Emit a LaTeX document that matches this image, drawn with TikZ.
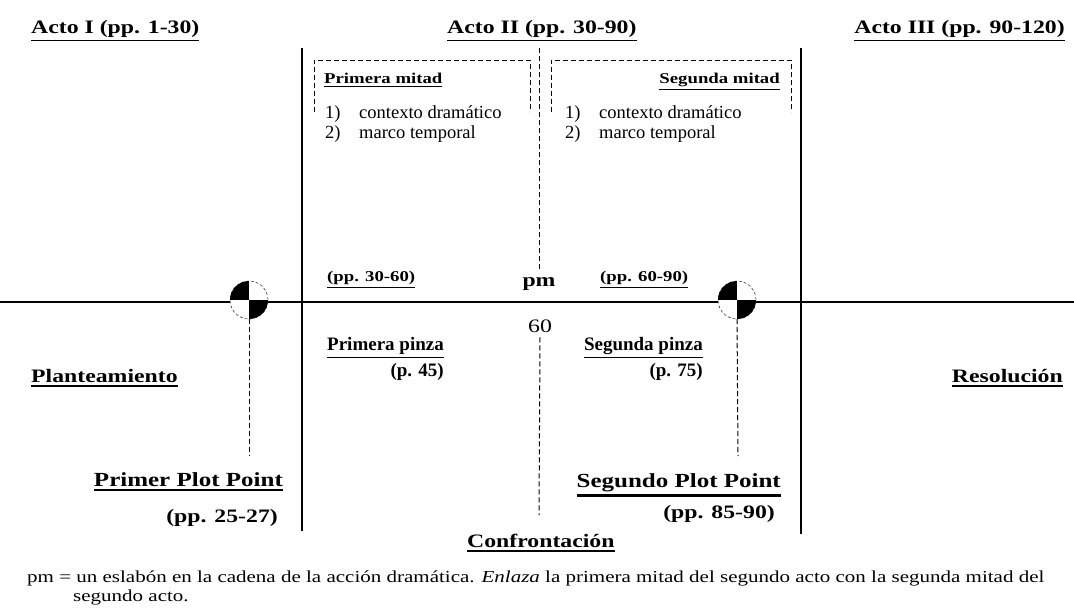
\documentclass[tikz,border=0pt]{standalone}
\usepackage{fontspec}
\setmainfont{Liberation Serif}
\newfontfamily\widefont{Liberation Serif}[FakeStretch=1.25]
\usetikzlibrary{positioning}

% underlined label: text, then a rule below it
\newcommand\ulin[2][1.6pt]{\vtop{\hbox{#2}\kern2.5pt\hrule height #1}}

\begin{document}
\begin{tikzpicture}[x=1pt,y=-1pt,
  acto/.style={font=\widefont\bfseries\fontsize{19}{22}\selectfont,inner sep=0pt},
  giro/.style={font=\widefont\bfseries\fontsize{20}{23}\selectfont,inner sep=0pt},
  mitad/.style={font=\widefont\bfseries\fontsize{15}{18}\selectfont,inner sep=0pt},
  rango/.style={font=\widefont\bfseries\fontsize{15}{18}\selectfont,inner sep=0pt},
  lista/.style={font=\fontsize{18.5}{20}\selectfont,inner sep=0pt,anchor=base west},
  pinza/.style={font=\bfseries\fontsize{19}{22}\selectfont,inner sep=0pt,anchor=base east},
  nota/.style={font=\widefont\fontsize{16.8}{20}\selectfont,inner sep=0pt,anchor=base west},
  marca/.style={circle,draw,thin,densely dashed,fill=white,minimum size=38pt,inner sep=0pt},
  linea/.style={line width=1.2pt},
  rayas/.style={line width=1pt,dash pattern=on 5pt off 3pt}]

\useasboundingbox (0,0) rectangle (1074,614);

% acts
\node[acto,anchor=base west] (a1) at (31,33) {\ulin{Acto I (pp. 1-30)}};
\node[acto,anchor=base west] (a2) at (447,33) {\ulin{Acto II (pp. 30-90)}};
\node[acto,anchor=base east] (a3) at (1065,33) {\ulin{Acto III (pp. 90-120)}};

% frame lines
\coordinate (h0) at (0,302);
\coordinate (h1) at (1074,302);
\coordinate (v1a) at (302,48);
\coordinate (v1b) at (302,531);
\coordinate (v2a) at (801,48);
\coordinate (v2b) at (801,534);
\coordinate (mid) at (539,48);
\coordinate (midb) at (539,515);
\draw[linea] (h0) -- (h1);
\draw[linea] (v1a) -- (v1b);
\draw[linea] (v2a) -- (v2b);

% halves of act II
\draw[rayas] (314,112) -- (314,60) -- (530,60) -- (530,112);
\draw[rayas] (551,112) -- (551,60) -- (791,60) -- (791,112);
\node[mitad,anchor=base west] (m1) at (324,83) {\ulin[1.3pt]{Primera mitad}};
\node[mitad,anchor=base east] (m2) at (780,83) {\ulin[1.3pt]{Segunda mitad}};
\node[lista] (i1) at (325,118) {\makebox[34pt][l]{1)}contexto dramático};
\node[lista] (i2) at (325,138) {\makebox[34pt][l]{2)}marco temporal};
\node[lista] (j1) at (565,118) {\makebox[34pt][l]{1)}contexto dramático};
\node[lista] (j2) at (565,138) {\makebox[34pt][l]{2)}marco temporal};

% midpoint
\node[rango,anchor=base west] (r1) at (327,281) {\ulin[1.2pt]{(pp. 30-60)}};
\node[rango,anchor=base west] (r2) at (600,281) {\ulin[1.2pt]{(pp. 60-90)}};
\node[acto,anchor=base] (pm) at (539,286) {pm};
\node[font=\widefont\fontsize{19}{22}\selectfont,inner sep=0pt,anchor=base] (sesenta) at (540,332) {60};
\draw[rayas] (mid) -- ([yshift=8pt]pm.north);
\draw[rayas] ([yshift=-5pt]sesenta.south) -- (midb);

\node[pinza] (p1) at (444,350) {\ulin[1.4pt]{Primera pinza}};
\node[pinza] (p1n) at (444,376) {(p. 45)};
\node[pinza] (p2) at (703,350) {\ulin[1.4pt]{Segunda pinza}};
\node[pinza] (p2n) at (703,376) {(p. 75)};

% plot points
\node[marca] (c1) at (249,300) {};
\node[marca] (c2) at (737,300) {};
\foreach \c in {c1,c2}{
  \begin{scope}
    \clip (\c) circle[radius=19pt];
    \fill (\c.center) rectangle (\c.north -| \c.west);
    \fill (\c.center) rectangle (\c.south -| \c.east);
  \end{scope}
}
\coordinate (d1) at (249,456);
\coordinate (d2) at (738,456);
\draw[rayas] (c1.south) -- (d1);
\draw[rayas] (c2.south) -- (d2);

\node[acto,anchor=base west] (plan) at (31,382) {\ulin[2pt]{Planteamiento}};
\node[acto,anchor=base east] (reso) at (1063,382) {\ulin[2pt]{Resolución}};
\node[giro,anchor=base east] (t1) at (283,486) {\ulin[2.6pt]{Primer Plot Point}};
\node[acto,anchor=base east] (t1n) at (278,522) {(pp. 25-27)};
\node[giro,anchor=base east] (t2) at (781,487) {\ulin[2.6pt]{Segundo Plot Point}};
\node[acto,anchor=base east] (t2n) at (775,518) {(pp. 85-90)};
\node[acto,anchor=base west] (conf) at (467,547) {\ulin[2pt]{Confrontación}};

% footnote
\node[nota] (n1) at (27,582) {pm = un eslabón en la cadena de la acción dramática. \emph{Enlaza} la primera mitad del segundo acto con la segunda mitad del};
\node[nota] (n2) at (73,601) {segundo acto.};
\end{tikzpicture}
\end{document}
